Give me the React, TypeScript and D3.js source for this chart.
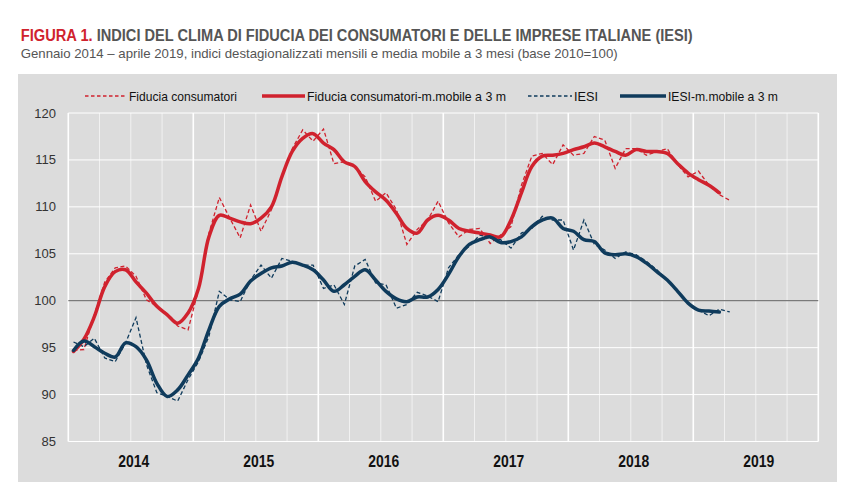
import React from "react";
import * as d3 from "d3";

const consRaw = [94.7, 94.8, 98.5, 102.0, 103.5, 103.7, 102.6, 100.1, 99.4, 98.6, 97.3, 96.9,
  101.2, 107.2, 111.0, 108.8, 106.7, 110.2, 107.4, 109.7, 113.2, 116.2, 118.2, 117.0,
  118.3, 114.6, 114.8, 114.3, 113.2, 110.6, 111.5, 109.7, 106.0, 107.6, 108.6, 110.6,
  108.3, 106.8, 107.6, 107.7, 106.1, 107.0, 107.9, 112.3, 115.4, 115.7, 114.5, 116.6,
  115.5, 115.7, 117.5, 117.1, 114.1, 116.2, 116.2, 115.5, 115.9, 116.2, 114.5, 113.2,
  113.8, 112.3, 111.3, 110.7];

const consMA = [94.6, 95.9, 98.3, 101.5, 103.1, 103.3, 102.0, 100.8, 99.4, 98.5, 97.6, 98.7,
  101.3, 106.8, 109.1, 108.8, 108.4, 108.2, 108.8, 110.0, 113.2, 115.9, 117.3, 117.8,
  116.8, 116.1, 114.8, 114.3, 112.7, 111.6, 110.7, 109.3, 107.7, 107.2, 108.6, 109.1,
  108.6, 107.7, 107.4, 107.2, 107.0, 106.8, 108.6, 111.5, 114.3, 115.4, 115.5, 115.7,
  116.1, 116.4, 116.8, 116.4, 115.9, 115.5, 116.1, 115.9, 115.9, 115.7, 114.6, 113.6,
  112.9, 112.3, 111.5];

const iesiRaw = [95.6, 95.1, 96.0, 93.9, 93.5, 95.5, 98.2, 93.2, 90.2, 89.8, 89.3, 91.6,
  93.5, 96.2, 101.0, 100.1, 99.9, 102.2, 103.8, 102.4, 104.5, 104.2, 103.8, 103.8,
  101.3, 101.7, 99.6, 103.7, 104.4, 101.9, 101.7, 99.2, 99.6, 100.9, 100.5, 99.9,
  103.5, 104.9, 105.8, 107.0, 106.7, 106.5, 105.6, 107.2, 107.7, 109.0, 108.6, 108.6,
  105.4, 108.6, 106.0, 105.4, 104.5, 105.2, 104.9, 104.2, 103.3, 102.2, 101.0, 99.7,
  99.0, 98.4, 99.1, 98.8];

const iesiMA = [94.7, 95.7, 95.1, 94.4, 94.0, 95.5, 95.1, 93.7, 91.2, 89.8, 90.5, 92.1,
  93.9, 96.9, 99.4, 100.2, 100.7, 102.1, 102.9, 103.5, 103.7, 104.1, 103.8, 103.3,
  102.2, 101.0, 101.7, 102.6, 103.3, 102.2, 101.0, 100.2, 99.9, 100.4, 100.4, 101.2,
  102.8, 104.7, 106.0, 106.5, 106.8, 106.2, 106.3, 106.8, 107.9, 108.6, 108.8, 107.7,
  107.4, 106.5, 106.3, 105.1, 104.9, 105.0, 104.7, 104.0, 103.1, 102.2, 101.0, 99.75,
  99.0, 98.9, 98.8];

const years = ["2014", "2015", "2016", "2017", "2018", "2019"];
const yTicks = [85, 90, 95, 100, 105, 110, 115, 120];

const legendItems = [
  { label: "Fiducia consumatori", color: "#d0222e", dashed: true, x1: 85, x2: 127, w: 108 },
  { label: "Fiducia consumatori-m.mobile a 3 m", color: "#d0222e", dashed: false, x1: 262, x2: 305, w: 199 },
  { label: "IESI", color: "#0f3b5c", dashed: true, x1: 528, x2: 572, w: 24 },
  { label: "IESI-m.mobile a 3 m", color: "#0f3b5c", dashed: false, x1: 620, x2: 666, w: 110 },
];

const RED = "#d0222e";
const BLUE = "#0f3b5c";
const SANS = "'Liberation Sans', Arial, sans-serif";

export default function App() {
  const W = 862, H = 500;
  const x = d3.scaleLinear().domain([0, 72]).range([68.3, 818.3]);
  const y = d3.scaleLinear().domain([85, 120]).range([441.5, 113]);
  const px = (i: number) => x(i + 0.5);

  const straight = d3.line<number>().x((_, i) => px(i)).y((d) => y(d));
  const smooth = d3.line<number>().x((_, i) => px(i)).y((d) => y(d)).curve(d3.curveCatmullRom.alpha(0.5));

  const quarters = d3.range(0, 73, 3);

  return (
    <svg width={W} height={H} style={{ position: "absolute", left: 0, top: 0, background: "#fff" }}>
      <text x={20.7} y={41} fontFamily={SANS} fontWeight="bold" fontSize={16} fill={RED}
        textLength={72} lengthAdjust="spacingAndGlyphs">FIGURA 1.</text>
      <text x={96.7} y={41} fontFamily={SANS} fontWeight="bold" fontSize={16} fill="#555"
        textLength={596} lengthAdjust="spacingAndGlyphs">INDICI DEL CLIMA DI FIDUCIA DEI CONSUMATORI E DELLE IMPRESE ITALIANE (IESI)</text>
      <text x={20.7} y={57.5} fontFamily={SANS} fontSize={13} fill="#555"
        textLength={597} lengthAdjust="spacingAndGlyphs">Gennaio 2014 – aprile 2019, indici destagionalizzati mensili e media mobile a 3 mesi (base 2010=100)</text>

      <rect x={18} y={74} width={819} height={408} fill="#dcdcdc" />

      {/* legend */}
      {legendItems.map((it) => (
        <g key={it.label}>
          <line x1={it.x1} x2={it.x2} y1={96} y2={96} stroke={it.color}
            strokeWidth={it.dashed ? 1.3 : 3.5} strokeDasharray={it.dashed ? "3.5,2.5" : undefined} />
          <text x={it.x2 + 2} y={100.5} fontFamily={SANS} fontSize={13.5} fill="#111"
            textLength={it.w} lengthAdjust="spacingAndGlyphs">{it.label}</text>
        </g>
      ))}

      {/* grid */}
      {yTicks.map((t) => (
        <line key={"h" + t} x1={x(0)} x2={x(72)} y1={y(t)} y2={y(t)} stroke="#fff" strokeWidth={1} />
      ))}
      {quarters.map((q) => (
        <line key={"v" + q} x1={x(q)} x2={x(q)} y1={y(120)} y2={y(85)} stroke="#fff"
          strokeWidth={q % 12 === 0 ? 1.6 : 0.8} opacity={q % 12 === 0 ? 1 : 0.8} />
      ))}
      <line x1={x(0)} x2={x(72)} y1={y(100)} y2={y(100)} stroke="#5a5a5a" strokeWidth={1} />

      {/* y labels */}
      {yTicks.map((t) => (
        <text key={"yl" + t} x={56} y={y(t) + 4.5} textAnchor="end" fontFamily={SANS} fontSize={13} fill="#333">{t}</text>
      ))}
      {/* x labels */}
      {years.map((yr, k) => (
        <g key={yr} transform={`translate(${x(k * 12 + 6) + 3},466.5) scale(0.82,1)`}>
          <text x={0} y={0} textAnchor="middle" fontFamily={SANS} fontWeight="bold" fontSize={17} fill="#111">{yr}</text>
        </g>
      ))}

      {/* series */}
      <path d={straight(consRaw) || ""} fill="none" stroke={RED} strokeWidth={1.3} strokeDasharray="4,2.5" />
      <path d={straight(iesiRaw) || ""} fill="none" stroke={BLUE} strokeWidth={1.3} strokeDasharray="4,2.5" />
      <path d={smooth(consMA) || ""} fill="none" stroke={RED} strokeWidth={3.5} strokeLinejoin="round" strokeLinecap="round" />
      <path d={smooth(iesiMA) || ""} fill="none" stroke={BLUE} strokeWidth={3.5} strokeLinejoin="round" strokeLinecap="round" />
    </svg>
  );
}
